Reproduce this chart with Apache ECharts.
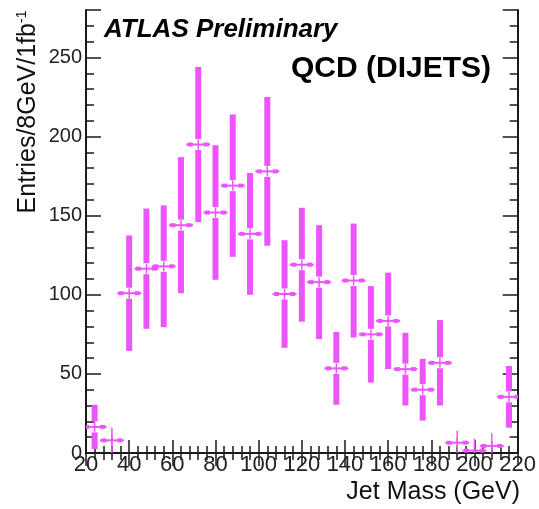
<!DOCTYPE html>
<html>
<head>
<meta charset="utf-8">
<script src="https://cdn.jsdelivr.net/npm/echarts@6/dist/echarts.min.js"></script>
<style>
  html, body { margin: 0; padding: 0; background: #fff; }
  #chart { width: 539px; height: 509px; }
</style>
</head>
<body>
<div id="chart"></div>
<script>
// Jet mass bin centres (GeV), 8 GeV bins from 20 to 220
const jetMass = [24, 32, 40, 48, 56, 64, 72, 80, 88, 96, 104, 112, 120,
                 128, 136, 144, 152, 160, 168, 176, 184, 192, 200, 208, 216];
// Entries per bin (8 GeV, 1 fb^-1)
const entries = [16.5, 8, 101, 116.5, 118, 144, 195, 152, 169, 138.5, 178, 100.5, 119,
                 108, 53.5, 109, 75, 83.5, 53, 40, 57, 6.5, 1.5, 4.5, 35.5];
// Wide error bars (symmetric half-size); 0 where none is drawn
const bandErr = [14, 0, 36.5, 38, 38.5, 43, 49, 42.5, 45, 38.5, 47, 34, 36,
                 36, 23, 36, 30.5, 30.5, 23, 19.5, 27, 0, 0, 0, 19.5];
// Thin error bars for the sparsely populated bins
const lineErr = [0, 8, 0, 0, 0, 0, 0, 0, 0, 0, 0, 0, 0,
                 0, 0, 0, 0, 0, 0, 0, 0, 7.5, 7.5, 8, 0];
// Axis tick labels
const xTicks = [20, 40, 60, 80, 100, 120, 140, 160, 180, 200, 220];
const yTicks = [0, 50, 100, 150, 200, 250];

const FONT = "'Liberation Sans', Arial, Helvetica, sans-serif";
const INK = '#1a1a1a';
const MAGENTA = '#ec55fb';

const points = jetMass.map((m, i) => [m, entries[i], bandErr[i], lineErr[i]]);

function renderPoint(params, api) {
  const x = api.value(0), y = api.value(1);
  const eb = api.value(2), el = api.value(3);
  const c = api.coord([x, y]);
  const kids = [];
  const gap = 5.5, half = 3;
  if (eb > 0) {
    const top = api.coord([x, y + eb])[1];
    const bot = api.coord([x, y - eb])[1];
    kids.push({ type: 'rect', shape: { x: c[0] - half, y: top, width: half * 2, height: Math.max(0, c[1] - gap - top) },
                style: { fill: MAGENTA } });
    kids.push({ type: 'rect', shape: { x: c[0] - half, y: c[1] + gap, width: half * 2, height: Math.max(0, bot - c[1] - gap) },
                style: { fill: MAGENTA } });
  }
  if (el > 0) {
    const top = api.coord([x, y + el])[1];
    const bot = api.coord([x, y - el])[1];
    kids.push({ type: 'line', shape: { x1: c[0], y1: top, x2: c[0], y2: bot },
                style: { stroke: MAGENTA, lineWidth: 1.5 } });
  }
  // horizontal bar with crosshair and end markers
  kids.push({ type: 'line', shape: { x1: c[0] - 12, y1: c[1], x2: c[0] + 12, y2: c[1] },
              style: { stroke: MAGENTA, lineWidth: 2 } });
  kids.push({ type: 'line', shape: { x1: c[0], y1: c[1] - 5, x2: c[0], y2: c[1] + 5 },
              style: { stroke: MAGENTA, lineWidth: 1.5 } });
  kids.push({ type: 'rect', shape: { x: c[0] - 10.5, y: c[1] - 2, width: 5, height: 4 }, style: { fill: MAGENTA } });
  kids.push({ type: 'rect', shape: { x: c[0] + 5.5, y: c[1] - 2, width: 5, height: 4 }, style: { fill: MAGENTA } });
  return { type: 'group', children: kids };
}

const frameLine = { show: true, lineStyle: { color: INK, width: 2 } };
const tickStyle = { color: INK, width: 1.5 };

// x axes: major ticks every 20 GeV, minor every 4 GeV
function xAxisDef(pos, withLabels) {
  return {
    type: 'value', position: pos, min: 20, max: 220, interval: 20,
    axisLine: frameLine,
    axisTick: { show: true, inside: true, length: 13, lineStyle: tickStyle },
    minorTick: { show: true, splitNumber: 5, length: 7, lineStyle: tickStyle },
    axisLabel: withLabels ? {
      show: true, fontFamily: FONT, fontSize: 22, color: '#222', margin: 1,
      customValues: xTicks
    } : { show: false },
    splitLine: { show: false }, minorSplitLine: { show: false }
  };
}
// y axes: major ticks every 50, minor every 10 (separate axis for the minor ones)
function yAxisDef(pos, interval, len, withLabels) {
  return {
    type: 'value', position: pos, min: 0, max: 280, interval: interval,
    axisLine: withLabels !== null ? frameLine : { show: false },
    axisTick: { show: true, inside: true, length: len, lineStyle: tickStyle },
    axisLabel: withLabels ? {
      show: true, fontFamily: FONT, fontSize: 20, color: '#222', margin: 4,
      customValues: yTicks
    } : { show: false },
    splitLine: { show: false }
  };
}

const chart = echarts.init(document.getElementById('chart'), null, { renderer: 'canvas' });
chart.setOption({
  animation: false,
  backgroundColor: '#fff',
  grid: { left: 86, right: 16, top: 10, bottom: 56, containLabel: false },
  xAxis: [
    xAxisDef('bottom', true),
    xAxisDef('top', false)
  ],
  yAxis: [
    yAxisDef('left', 50, 15, true),
    yAxisDef('left', 10, 8, null),
    yAxisDef('right', 50, 15, false),
    yAxisDef('right', 10, 8, null)
  ],
  series: [{
    type: 'custom',
    xAxisIndex: 0, yAxisIndex: 0,
    clip: true,
    renderItem: renderPoint,
    data: points
  }],
  graphic: [
    {
      type: 'text', left: 104, top: 17,
      style: { text: 'ATLAS Preliminary', fontFamily: FONT, fontSize: 26, fontWeight: 'bold',
               fontStyle: 'italic', fill: '#000' }
    },
    {
      type: 'text', left: 291, top: 54,
      style: { text: 'QCD (DIJETS)', fontFamily: FONT, fontSize: 30, fontWeight: 'bold', fill: '#000' }
    },
    {
      type: 'text', x: 28, y: 112, rotation: Math.PI / 2,
      style: {
        text: 'Entries/8GeV/1fb{sup|-1}', fontFamily: FONT, fontSize: 25, fill: '#111',
        align: 'center', verticalAlign: 'middle',
        rich: { sup: { fontFamily: FONT, fontSize: 14, fill: '#111', verticalAlign: 'top', padding: [0, 0, 12, 0] } }
      }
    },
    {
      type: 'text', right: 19, top: 480,
      style: { text: 'Jet Mass (GeV)', fontFamily: FONT, fontSize: 25, fill: '#111' }
    }
  ]
});
</script>
</body>
</html>
